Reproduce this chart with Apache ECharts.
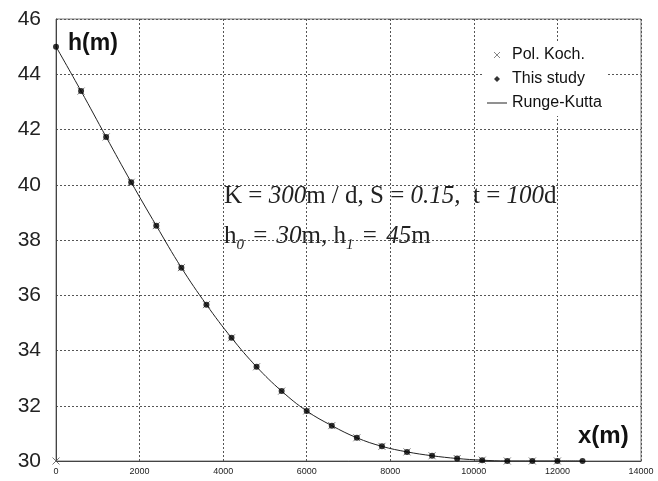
<!DOCTYPE html>
<html>
<head>
<meta charset="utf-8">
<script src="https://cdn.jsdelivr.net/npm/echarts@6/dist/echarts.min.js"></script>
<style>
  html, body { margin: 0; padding: 0; background: #fff; }
  #chart { width: 658px; height: 481px; }
</style>
</head>
<body>
<div id="chart"></div>
<script>
// Distance from the river (m)
const distances = [0, 600, 1200, 1800, 2400, 3000, 3600, 4200, 4800, 5400, 6000,
  6600, 7200, 7800, 8400, 9000, 9600, 10200, 10800, 11400, 12000, 12600];

// Head h(m), present solution
const thisStudy = [45.0, 43.39, 41.73, 40.09, 38.52, 37.0, 35.66, 34.46, 33.41, 32.53, 31.81,
  31.28, 30.84, 30.53, 30.33, 30.19, 30.09, 30.03, 30.0, 30.0, 30.0, 30.0];

// Head h(m), Runge-Kutta numerical solution
const rungeKutta = [45.0, 43.39, 41.73, 40.09, 38.52, 37.0, 35.66, 34.46, 33.41, 32.53, 31.81,
  31.28, 30.84, 30.53, 30.33, 30.19, 30.09, 30.03, 30.0, 30.0, 30.0, 30.0];

// Polubarinova-Kochina solution
const polKochX = [0, 600, 1200, 1800, 2400, 3000, 3600, 4200, 4800, 5400, 6000,
  6600, 7200, 7800, 8400, 9000, 9600, 10200, 10800, 11400, 12000];
const polKochH = [30.0, 43.39, 41.73, 40.09, 38.52, 37.0, 35.66, 34.46, 33.41, 32.53, 31.81,
  31.28, 30.84, 30.53, 30.33, 30.19, 30.09, 30.03, 30.0, 30.0, 30.0];

const xTicks = [0, 2000, 4000, 6000, 8000, 10000, 12000, 14000];
const yTicks = [30, 32, 34, 36, 38, 40, 42, 44, 46];

const pairs = (xs, ys) => xs.map((x, i) => [x, ys[i]]);

const crossPath = 'path://M0,0 L10,10 M10,0 L0,10';
const dashPath = 'path://M0,0 L20,0 L20,1 L0,1 Z';
const diamondPath = 'path://M3,0 L6,3 L3,6 L0,3 Z';

const serif = '"Liberation Serif", "Times New Roman", serif';
const sans = '"Liberation Sans", Arial, sans-serif';

const chart = echarts.init(document.getElementById('chart'), null, { renderer: 'canvas' });

chart.setOption({
  animation: false,
  backgroundColor: '#ffffff',
  grid: {
    left: 56, right: 17, top: 19, bottom: 20,
    show: true, borderColor: '#7a7a7a', borderWidth: 1, backgroundColor: 'transparent'
  },
  xAxis: {
    type: 'value',
    min: xTicks[0], max: xTicks[xTicks.length - 1], interval: 2000,
    axisLine: { show: true, onZero: false, lineStyle: { color: '#444', width: 1 } },
    axisTick: { show: false },
    axisLabel: { fontFamily: sans, fontSize: 9, color: '#222', margin: 6, formatter: v => String(v) },
    splitLine: { show: true, lineStyle: { color: '#555', type: [2, 2], width: 1 } }
  },
  yAxis: {
    type: 'value',
    min: yTicks[0], max: yTicks[yTicks.length - 1], interval: 2,
    axisLine: { show: true, onZero: false, lineStyle: { color: '#444', width: 1 } },
    axisTick: { show: false },
    axisLabel: { fontFamily: sans, fontSize: 21, color: '#222', margin: 15 },
    splitLine: { show: true, lineStyle: { color: '#555', type: [2, 2], width: 1 } }
  },
  legend: {
    orient: 'vertical',
    left: 483, top: 42,
    itemGap: 6,
    itemWidth: 20, itemHeight: 6,
    symbolKeepAspect: true,
    backgroundColor: '#ffffff',
    padding: [4, 6, 4, 4],
    textStyle: { fontFamily: sans, fontSize: 16, color: '#111', lineHeight: 18 },
    data: [
      { name: 'Pol. Koch.', icon: crossPath, itemStyle: { color: 'transparent', borderColor: '#666', borderWidth: 1 } },
      { name: 'This study', icon: diamondPath, itemStyle: { color: '#000', borderWidth: 0 } },
      { name: 'Runge-Kutta', icon: dashPath, itemStyle: { color: '#222', borderWidth: 0 } }
    ]
  },
  series: [
    {
      name: 'Runge-Kutta',
      type: 'line',
      data: pairs(distances, rungeKutta),
      smooth: 0.4,
      symbol: 'none',
      color: '#222',
      lineStyle: { color: '#222', width: 1 },
      z: 2
    },
    {
      name: 'Pol. Koch.',
      type: 'scatter',
      data: pairs(polKochX, polKochH),
      symbol: crossPath,
      symbolSize: 7,
      itemStyle: { color: 'transparent', borderColor: '#555', borderWidth: 1 },
      z: 3
    },
    {
      name: 'This study',
      type: 'scatter',
      data: pairs(distances, thisStudy),
      symbol: 'circle',
      symbolSize: 6,
      itemStyle: { color: '#000' },
      z: 4
    }
  ],
  graphic: [
    {
      type: 'text', left: 68, top: 32,
      style: { text: 'h(m)', font: 'bold 23px ' + sans, fill: '#111' }
    },
    {
      type: 'text', left: 578, top: 424,
      style: { text: 'x(m)', font: 'bold 24px ' + sans, fill: '#111' }
    },
    {
      type: 'text', left: 224, top: 184,
      style: {
        text: '{r|K = }{i|300}{r|m / d, S = }{i|0.15,}{r|  t = }{i|100}{r|d}',
        rich: {
          r: { fontFamily: serif, fontSize: 25, fill: '#222' },
          i: { fontFamily: serif, fontSize: 25, fontStyle: 'italic', fill: '#222' }
        }
      }
    },
    {
      type: 'text', left: 224, top: 224,
      style: {
        text: '{r|h}{s|0}{e| = }{i|30}{r|m, h}{s|1}{e| = }{i|45}{r|m}',
        rich: {
          r: { fontFamily: serif, fontSize: 25, fill: '#222', verticalAlign: 'bottom' },
          e: { fontFamily: serif, fontSize: 25, fill: '#222', verticalAlign: 'bottom', padding: [0, 3, 0, 3] },
          i: { fontFamily: serif, fontSize: 25, fontStyle: 'italic', fill: '#222', verticalAlign: 'bottom' },
          s: { fontFamily: serif, fontSize: 15, fontStyle: 'italic', fill: '#222', verticalAlign: 'bottom', padding: [0, 0, -4, 0] }
        }
      }
    }
  ]
});
</script>
</body>
</html>
